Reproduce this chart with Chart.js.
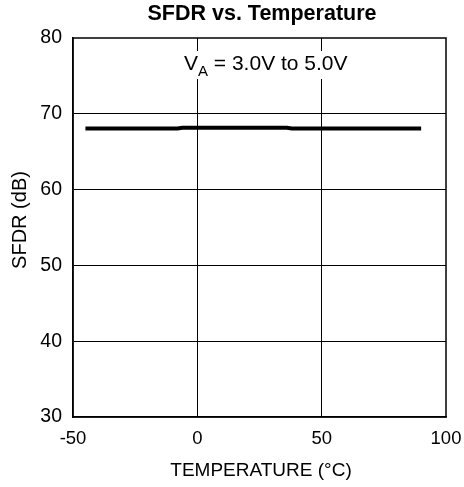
<!DOCTYPE html>
<html>
<head>
<meta charset="utf-8">
<script src="https://cdn.jsdelivr.net/npm/chart.js@4"></script>
<style>
  html, body { margin: 0; padding: 0; background: #fff; }
  #wrap { width: 464px; height: 487px; }
</style>
</head>
<body>
<div id="wrap"><canvas id="c"></canvas></div>
<script>
// SFDR over temperature, single supply range curve
const tempC = [-45, -8, -6, 36, 38, 90];
const sfdrDb = [68.05, 68.05, 68.15, 68.15, 68.05, 68.05];
const xTicks = [-50, 0, 50, 100];
const yTicks = [30, 40, 50, 60, 70, 80];

const FONT = "'Liberation Sans', Arial, sans-serif";

// title, axis captions and the supply-voltage note
const textPlugin = {
  id: 'texts',
  afterDraw(chart) {
    const { ctx } = chart;
    ctx.save();
    ctx.fillStyle = '#000';
    ctx.textAlign = 'center';
    ctx.textBaseline = 'alphabetic';
    ctx.font = 'bold 21.5px ' + FONT;
    ctx.fillText('SFDR vs. Temperature', 262, 20);

    ctx.textBaseline = 'middle';
    ctx.font = '19px ' + FONT;
    ctx.fillText('TEMPERATURE (°C)', 261, 471);

    ctx.translate(20, 220);
    ctx.rotate(-Math.PI / 2);
    ctx.font = '20px ' + FONT;
    ctx.fillText('SFDR (dB)', 0, 0);
    ctx.restore();

    // V_A = 3.0V to 5.0V on a white patch over the grid
    ctx.save();
    ctx.textBaseline = 'alphabetic';
    ctx.textAlign = 'left';
    const parts = [
      { t: 'V', f: '21px ', dy: 0 },
      { t: 'A', f: '15px ', dy: 6 },
      { t: ' = 3.0V to 5.0V', f: '21px ', dy: 0 }
    ];
    let w = 0;
    parts.forEach(p => { ctx.font = p.f + FONT; p.w = ctx.measureText(p.t).width; w += p.w; });
    let x = 184, y = 70;
    ctx.fillStyle = '#fff';
    ctx.fillRect(x - 2, 51, w + 4, 28);
    ctx.fillStyle = '#000';
    parts.forEach(p => {
      ctx.font = p.f + FONT;
      ctx.fillText(p.t, x, y + p.dy);
      x += p.w;
    });
    ctx.restore();
  }
};

new Chart(document.getElementById('c'), {
  type: 'scatter',
  data: {
    datasets: [{
      data: tempC.map((t, i) => ({ x: t, y: sfdrDb[i] })),
      showLine: true,
      borderColor: '#000',
      borderWidth: 4,
      pointRadius: 0,
      tension: 0
    }]
  },
  options: {
    responsive: true,
    maintainAspectRatio: false,
    animation: false,
    layout: { padding: { top: 38, right: 18, left: 0, bottom: 0 } },
    plugins: { legend: { display: false }, tooltip: { enabled: false } },
    scales: {
      x: {
        type: 'linear',
        min: -50,
        max: 100,
        afterBuildTicks(scale) { scale.ticks = xTicks.map(v => ({ value: v })); },
        afterFit(scale) {
          scale.height = 70;
          scale.paddingRight = 0;
          scale.paddingLeft = 0;
        },
        grid: {
          color: ctx => (ctx.tick && (ctx.tick.value === -50 || ctx.tick.value === 100)) ? 'rgba(0,0,0,0)' : '#000',
          lineWidth: 1,
          drawTicks: false
        },
        border: { color: '#000', width: 1.5 },
        ticks: { color: '#000', font: { family: FONT, size: 18.5 }, padding: 11, maxRotation: 0 }
      },
      y: {
        min: 30,
        max: 80,
        afterBuildTicks(scale) { scale.ticks = yTicks.map(v => ({ value: v })); },
        afterFit(scale) {
          scale.width = 73;
          scale.paddingTop = 0;
          scale.paddingBottom = 0;
        },
        grid: {
          color: ctx => (ctx.tick && (ctx.tick.value === 30 || ctx.tick.value === 80)) ? 'rgba(0,0,0,0)' : '#000',
          lineWidth: 1,
          drawTicks: false
        },
        border: { color: '#000', width: 1.5 },
        ticks: { color: '#000', font: { family: FONT, size: 19.5 }, padding: 11 }
      }
    }
  },
  plugins: [textPlugin, {
    id: 'frame',
    afterDatasetsDraw(chart) {
      const { ctx, chartArea: a } = chart;
      ctx.save();
      ctx.strokeStyle = '#000';
      ctx.lineWidth = 1.5;
      ctx.strokeRect(a.left, a.top, a.right - a.left, a.bottom - a.top);
      ctx.restore();
    }
  }]
});
</script>
</body>
</html>
